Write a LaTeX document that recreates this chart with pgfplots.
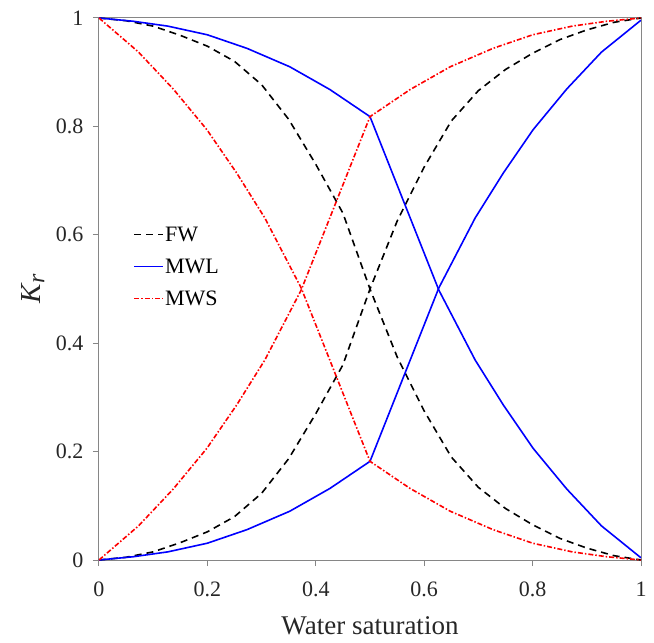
\documentclass[border=0pt]{standalone}
\usepackage{fontspec}
\setmainfont{Liberation Serif}
\usepackage{pgfplots}
\pgfplotsset{compat=1.18}
\definecolor{axgray}{RGB}{134,134,134}
\begin{document}
\begin{tikzpicture}
\begin{axis}[
  scale only axis, width=542pt, height=542pt,
  xmin=0, xmax=1, ymin=0, ymax=1,
  xtick={0,0.2,0.4,0.6,0.8,1}, ytick={0,0.2,0.4,0.6,0.8,1},
  xticklabels={0,0.2,0.4,0.6,0.8,1}, yticklabels={0,0.2,0.4,0.6,0.8,1},
  /pgf/number format/assume math mode=true,
  tick label style={font=\fontsize{22}{26}\selectfont, text=black!85},
  xticklabel style={yshift=-12pt},
  yticklabel style={xshift=-6pt},
  axis line style={axgray, line width=1pt},
  tick style={axgray, line width=1pt},
  major tick length=6pt,
  tick align=outside,
  xtick pos=bottom, ytick pos=left,
  xlabel={Water saturation},
  ylabel={\itshape K\kern0.5pt\raisebox{-0.3ex}{\fontsize{24}{28}\selectfont r}},
  every axis x label/.style={at={(axis description cs:0.5,0)}, anchor=base, yshift=-74pt,
    font=\fontsize{27}{32}\selectfont, text=black!85},
  every axis y label/.style={at={(axis description cs:0,0.5)}, anchor=center, rotate=90, yshift=66pt,
    font=\fontsize{29}{34}\selectfont, text=black!85},
  legend style={draw=none, fill=none, at={(rel axis cs:0.064,0.541)}, anchor=west,
    font=\fontsize{22}{26}\selectfont, row sep=12pt, inner sep=0pt},
  legend cell align=left,
  legend image post style={xscale=1.65, line width=1.1pt},
]
% FW
\addplot[black, line width=1.6pt, dash pattern=on 7pt off 5pt] coordinates {
(0,0)(0.05,0.005)(0.1,0.015)(0.15,0.032)(0.2,0.052)(0.25,0.08)(0.3,0.123)(0.35,0.187)(0.4,0.27)(0.45,0.36)(0.5,0.5)(0.55,0.625)(0.6,0.725)(0.65,0.81)(0.7,0.866)(0.75,0.905)(0.8,0.935)(0.85,0.96)(0.9,0.978)(0.95,0.992)(1,1)};
\addlegendentry{FW}
\addplot[forget plot, black, line width=1.6pt, dash pattern=on 7pt off 5pt] coordinates {
(0,1)(0.05,0.995)(0.1,0.985)(0.15,0.968)(0.2,0.948)(0.25,0.92)(0.3,0.877)(0.35,0.813)(0.4,0.73)(0.45,0.64)(0.5,0.5)(0.55,0.375)(0.6,0.275)(0.65,0.19)(0.7,0.134)(0.75,0.095)(0.8,0.065)(0.85,0.04)(0.9,0.022)(0.95,0.008)(1,0)};
% MWL
\addplot[blue, line width=1.6pt] coordinates {
(0,1)(0.063,0.994)(0.127,0.985)(0.2,0.969)(0.273,0.944)(0.352,0.91)(0.426,0.868)(0.5,0.818)(0.627,0.498)(0.694,0.369)(0.746,0.286)(0.801,0.206)(0.863,0.131)(0.927,0.063)(1,0.004)};
\addlegendentry{MWL}
\addplot[forget plot, blue, line width=1.6pt] coordinates {
(0,0)(0.063,0.006)(0.127,0.015)(0.2,0.031)(0.273,0.056)(0.352,0.09)(0.426,0.132)(0.5,0.182)(0.627,0.502)(0.694,0.631)(0.746,0.714)(0.801,0.794)(0.863,0.869)(0.927,0.937)(1,0.996)};
% MWS
\addplot[red, line width=1.6pt, dash pattern=on 5pt off 2pt on 1.5pt off 2pt] coordinates {
(0,1)(0.073,0.937)(0.137,0.869)(0.199,0.794)(0.254,0.714)(0.306,0.631)(0.373,0.502)(0.5,0.182)(0.574,0.132)(0.648,0.09)(0.727,0.056)(0.8,0.031)(0.873,0.015)(0.937,0.006)(1,0)};
\addlegendentry{MWS}
\addplot[forget plot, red, line width=1.6pt, dash pattern=on 5pt off 2pt on 1.5pt off 2pt] coordinates {
(0,0)(0.073,0.063)(0.137,0.131)(0.199,0.206)(0.254,0.286)(0.306,0.369)(0.373,0.498)(0.5,0.818)(0.574,0.868)(0.648,0.91)(0.727,0.944)(0.8,0.969)(0.873,0.985)(0.937,0.994)(1,1)};
\end{axis}
\path (current axis.south west) ++(-99pt,-83pt) rectangle ++(654pt,643pt);
\end{tikzpicture}
\end{document}
